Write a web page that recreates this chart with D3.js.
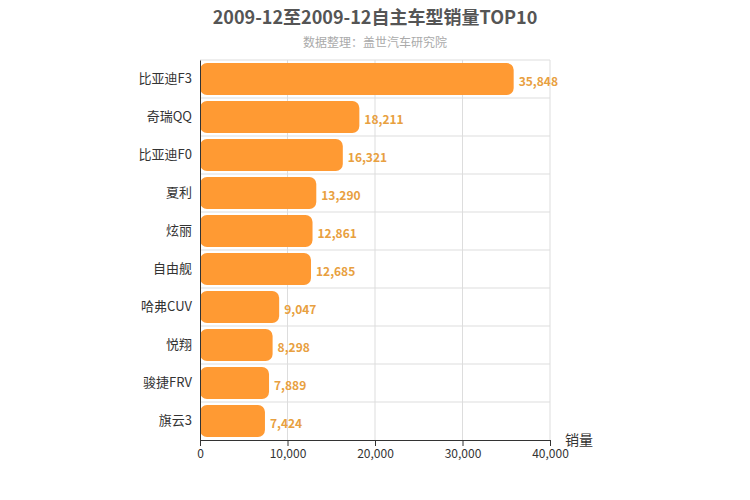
<!DOCTYPE html>
<html><head><meta charset="utf-8">
<script src="https://cdn.jsdelivr.net/npm/d3@7"></script>
<style>body{margin:0;background:#fff}text{font-family:"Microsoft YaHei","Noto Sans CJK SC",sans-serif}</style>
</head><body><svg width="750" height="500"></svg>
<script>
const models = ["比亚迪F3","奇瑞QQ","比亚迪F0","夏利","炫丽","自由舰","哈弗CUV","悦翔","骏捷FRV","旗云3"];
const sales = [35848,18211,16321,13290,12861,12685,9047,8298,7889,7424];
const xTicks = [0,10000,20000,30000,40000];

const svg = d3.select("svg");
const x = d3.scaleLinear().domain([0,40000]).range([200,550]);
const y = d3.scaleBand().domain(models).range([60,440]).paddingInner(0.16).paddingOuter(0.08);

// grid
svg.selectAll(".vg").data(xTicks.slice(1)).enter().append("line")
  .attr("x1",d=>x(d)).attr("x2",d=>x(d)).attr("y1",60).attr("y2",440)
  .attr("stroke","#ddd");
svg.selectAll(".hg").data(d3.range(models.length)).enter().append("line")
  .attr("x1",200).attr("x2",550).attr("y1",d=>60+d*y.step()).attr("y2",d=>60+d*y.step())
  .attr("stroke","#ddd");

// bars
svg.selectAll(".bar").data(models).enter().append("rect")
  .attr("x",x(0)).attr("y",d=>y(d)).attr("height",y.bandwidth())
  .attr("width",(d,i)=>x(sales[i])-x(0)).attr("rx",7)
  .attr("fill","#ff9a33");
svg.selectAll(".lbl").data(models).enter().append("text")
  .attr("x",(d,i)=>x(sales[i])+5).attr("y",d=>y(d)+y.bandwidth()/2+7)
  .attr("font-size",12).attr("font-weight","bold").attr("fill","#e8a040")
  .text((d,i)=>d3.format(",")(sales[i]));

// axes
svg.append("g").attr("transform","translate(0,440)")
  .call(d3.axisBottom(x).tickValues(xTicks).tickFormat(d3.format(",")).tickSizeOuter(0))
  .call(g=>{g.selectAll("text").attr("font-size",12).attr("fill","#333");g.select(".domain").attr("stroke","#333");g.selectAll("line").attr("stroke","#333");});
svg.append("g").attr("transform","translate(200,0)")
  .call(d3.axisLeft(y).tickSize(0).tickPadding(8))
  .call(g=>{g.selectAll("text").attr("font-size",13).attr("fill","#333");g.select(".domain").attr("stroke","#333");});

svg.append("text").attr("x",565).attr("y",445).attr("font-size",14).attr("fill","#333").text("销量");
svg.append("text").attr("x",375).attr("y",24).attr("text-anchor","middle")
  .attr("font-size",18).attr("font-weight","bold").attr("fill","#555").text("2009-12至2009-12自主车型销量TOP10");
svg.append("text").attr("x",375).attr("y",47).attr("text-anchor","middle")
  .attr("font-size",12).attr("fill","#aaa").text("数据整理：盖世汽车研究院");
</script></body></html>
